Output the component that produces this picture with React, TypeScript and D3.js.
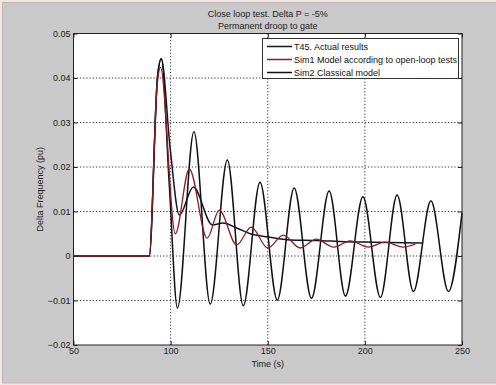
import React, { useEffect, useRef } from 'react';
import * as d3 from 'd3';

// Sim2 Classical model (sustained oscillation)
const sim2Time = [50, 89, 93.2, 95.2, 99.3, 103.5, 112.0, 120.4, 129.2, 137.4, 146, 154.9, 163.6, 172.5, 181.6, 190, 199, 208, 216.6, 225, 234, 243, 250];
const sim2Value = [0, 0, 0.04, 0.0443, 0.016, -0.0117, 0.0279, -0.0108, 0.0216, -0.0112, 0.0166, -0.0099, 0.0153, -0.0095, 0.0146, -0.009, 0.0133, -0.0093, 0.0137, -0.008, 0.0124, -0.008, 0.0097];

// Sim1 Model according to open-loop tests
const sim1Time = [50, 89, 93.0, 94.8, 102.4, 109.6, 118.8, 125, 134, 141.5, 150, 158, 166.7, 175, 184, 192.5, 201.8, 210.4, 219.7, 226];
const sim1Value = [0, 0, 0.038, 0.0424, 0.005, 0.0196, 0.004, 0.0103, 0.0025, 0.0065, 0.0018, 0.0047, 0.0018, 0.0038, 0.002, 0.0034, 0.002, 0.0031, 0.002, 0.0027];

// T45 actual results
const actualTime = [50, 89, 93.2, 95.2, 99.8, 104.5, 111.7, 121.5, 127, 134, 141, 150, 161.6, 175, 190, 205, 220, 230];
const actualValue = [0, 0, 0.04, 0.0443, 0.024, 0.0092, 0.0155, 0.007, 0.0074, 0.0063, 0.005, 0.0043, 0.0036, 0.0035, 0.0032, 0.0031, 0.003, 0.0029];

const xTicks = [50, 100, 150, 200, 250];
const yTicks = [-0.02, -0.01, 0, 0.01, 0.02, 0.03, 0.04, 0.05];
const legendLabels = ['T45. Actual results', 'Sim1 Model according to open-loop tests', 'Sim2 Classical model'];
const legendColors = ['#15152a', '#8c1c1c', '#111111'];

const W = 496;
const H = 385;
const FONT = 'Liberation Sans, Arial, sans-serif';

export default function App() {
  const ref = useRef<SVGSVGElement>(null);

  useEffect(() => {
    const svg = d3.select(ref.current);
    svg.selectAll('*').remove();

    const margin = { top: 33.5, right: 34, bottom: 40, left: 73.5 };

    // figure background with thin frame
    svg.append('rect').attr('width', W).attr('height', H).attr('fill', '#efe7e5');
    svg.append('rect')
      .attr('x', 2.5).attr('y', 2.5).attr('width', W).attr('height', H - 4.5)
      .attr('fill', '#c9c9c9').attr('stroke', '#c4b4b0');

    const x = d3.scaleLinear().domain([50, 250]).range([margin.left, W - margin.right]);
    const y = d3.scaleLinear().domain([-0.02, 0.05]).range([H - margin.bottom, margin.top]);

    // plot area
    svg.append('rect')
      .attr('x', x(50)).attr('y', y(0.05))
      .attr('width', x(250) - x(50)).attr('height', y(-0.02) - y(0.05))
      .attr('fill', 'white');

    // dotted grid
    const grid = svg.append('g').attr('stroke', '#333').attr('stroke-dasharray', '1.2,2').attr('stroke-width', 1);
    xTicks.slice(1, -1).forEach((t) => {
      grid.append('line').attr('x1', x(t)).attr('x2', x(t)).attr('y1', y(0.05)).attr('y2', y(-0.02));
    });
    yTicks.slice(1, -1).forEach((t) => {
      grid.append('line').attr('x1', x(50)).attr('x2', x(250)).attr('y1', y(t)).attr('y2', y(t));
    });

    // curves
    const line = d3.line<[number, number]>()
      .x((d) => x(d[0]))
      .y((d) => y(d[1]))
      .curve(d3.curveMonotoneX);

    const series = [
      { t: sim2Time, v: sim2Value, color: legendColors[2], w: 1.5 },
      { t: actualTime, v: actualValue, color: legendColors[0], w: 1.5 },
      { t: sim1Time, v: sim1Value, color: legendColors[1], w: 1.3 },
    ];
    series.forEach((s) => {
      svg.append('path')
        .datum(s.t.map((t, i) => [t, s.v[i]] as [number, number]))
        .attr('d', line)
        .attr('fill', 'none')
        .attr('stroke', s.color)
        .attr('stroke-width', s.w)
        .attr('stroke-linejoin', 'round');
    });

    // axes, ticks inward like matlab
    const xAxis = svg.append('g')
      .attr('transform', `translate(0,${y(-0.02)})`)
      .call(d3.axisBottom(x).tickValues(xTicks).tickSize(-4).tickPadding(3).tickFormat(d3.format('d')));
    const yAxis = svg.append('g')
      .attr('transform', `translate(${x(50)},0)`)
      .call(d3.axisLeft(y).tickValues(yTicks).tickSize(-4).tickPadding(3).tickFormat((d) => (d === 0 ? '0' : d3.format('.2f')(d as number))));
    // top/right ticks
    svg.append('g')
      .attr('transform', `translate(0,${y(0.05)})`)
      .call(d3.axisTop(x).tickValues(xTicks).tickSize(-4).tickFormat(() => ''));
    svg.append('g')
      .attr('transform', `translate(${x(250)},0)`)
      .call(d3.axisRight(y).tickValues(yTicks).tickSize(-4).tickFormat(() => ''));

    svg.selectAll('.domain').remove();
    svg.selectAll('.tick line').attr('stroke', '#222');
    [xAxis, yAxis].forEach((a) => a.selectAll('text').attr('font-family', FONT).attr('font-size', 9).attr('fill', '#222'));

    // box
    svg.append('rect')
      .attr('x', x(50)).attr('y', y(0.05))
      .attr('width', x(250) - x(50)).attr('height', y(-0.02) - y(0.05))
      .attr('fill', 'none').attr('stroke', '#222');

    // titles
    const titleX = (x(50) + x(250)) / 2;
    svg.append('text').attr('x', titleX).attr('y', 17).attr('text-anchor', 'middle')
      .attr('font-family', FONT).attr('font-size', 9).attr('fill', '#222')
      .text('Close loop test. Delta P = -5%');
    svg.append('text').attr('x', titleX).attr('y', 29).attr('text-anchor', 'middle')
      .attr('font-family', FONT).attr('font-size', 9).attr('fill', '#222')
      .text('Permanent droop to gate');
    svg.append('text').attr('x', titleX).attr('y', 367).attr('text-anchor', 'middle')
      .attr('font-family', FONT).attr('font-size', 9).attr('fill', '#222')
      .text('Time (s)');
    svg.append('text')
      .attr('transform', `translate(43,${(y(0.05) + y(-0.02)) / 2}) rotate(-90)`)
      .attr('text-anchor', 'middle')
      .attr('font-family', FONT).attr('font-size', 9).attr('fill', '#222')
      .text('Delta Frequency (pu)');

    // legend
    const lg = svg.append('g').attr('transform', 'translate(262,38)');
    lg.append('rect').attr('x', 0.5).attr('y', 0.5).attr('width', 196).attr('height', 40)
      .attr('fill', 'white').attr('stroke', '#333');
    legendLabels.forEach((label, i) => {
      const cy = 8.5 + i * 13;
      lg.append('line').attr('x1', 5).attr('x2', 30).attr('y1', cy).attr('y2', cy)
        .attr('stroke', legendColors[i]).attr('stroke-width', 1.5);
      lg.append('text').attr('x', 32).attr('y', cy + 3.2)
        .attr('font-family', FONT).attr('font-size', 9).attr('fill', '#111')
        .text(label);
    });
  }, []);

  return (
    <div style={{ position: 'absolute', left: 0, top: 0 }}>
      <svg ref={ref} width={W} height={H} style={{ display: 'block' }}></svg>
    </div>
  );
}
